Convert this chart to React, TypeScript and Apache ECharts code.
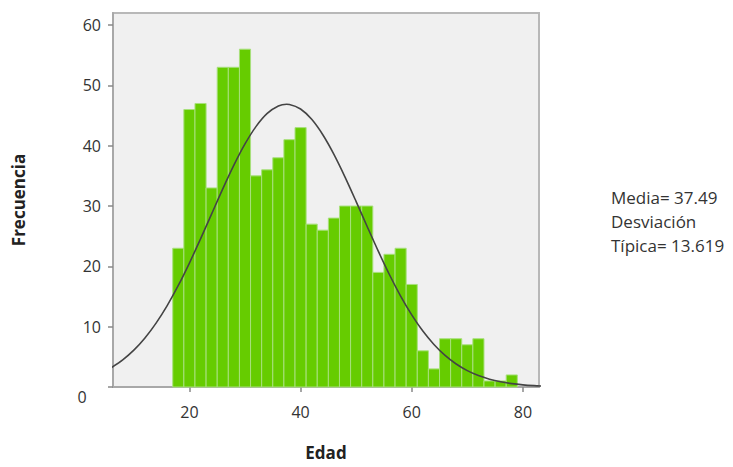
import React, { useEffect, useRef } from "react";
import * as echarts from "echarts";

// Histogram bins (age, width 2 years) and their counts
const binStarts = [17, 19, 21, 23, 25, 27, 29, 31, 33, 35, 37, 39, 41, 43, 45, 47, 49, 51, 53, 55, 57, 59, 61, 63, 65, 67, 69, 71, 73, 75, 77];
const counts = [23, 46, 47, 33, 53, 53, 56, 35, 36, 38, 41, 43, 27, 26, 28, 30, 30, 30, 19, 22, 23, 17, 6, 3, 8, 8, 7, 8, 1, 1, 2];
const binWidth = 2;

// Fitted normal curve
const curveX = [6, 8, 10, 12, 14, 16, 18, 20, 22, 24, 26, 28, 30, 32, 34, 36, 37.49, 38, 40, 42, 44, 46, 48, 50, 52, 54, 56, 58, 60, 62, 64, 66, 68, 70, 72, 74, 76, 78, 80, 82, 84];
const curveY = [3.24, 4.5, 6.11, 8.13, 10.59, 13.5, 16.83, 20.55, 24.55, 28.7, 32.84, 36.77, 40.29, 43.21, 45.36, 46.59, 46.87, 46.84, 46.08, 44.37, 41.81, 38.56, 34.8, 30.74, 26.57, 22.48, 18.61, 15.08, 11.96, 9.28, 7.05, 5.24, 3.81, 2.71, 1.89, 1.29, 0.86, 0.56, 0.36, 0.23, 0.14];

const xTicks = [20, 40, 60, 80];
const yTicks = [0, 10, 20, 30, 40, 50, 60];
const yLabels = [10, 20, 30, 40, 50, 60];

const statsLines = ["Media= 37.49", "Desviación", "Típica= 13.619"];

const FONT = "'Open Sans', 'Noto Sans', sans-serif";

export default function App() {
  const ref = useRef<HTMLDivElement>(null);
  useEffect(() => {
    if (!ref.current) return;
    const chart = echarts.init(ref.current, null, { renderer: "svg" });
    const barData = binStarts.map((s, i) => [s, s + binWidth, counts[i]]);
    const lineData = curveX.map((x, i) => [x, curveY[i]]);
    chart.setOption({
      animation: false,
      backgroundColor: "#ffffff",
      textStyle: { fontFamily: FONT },
      grid: {
        left: 113,
        top: 13,
        right: 194,
        bottom: 80,
        outerBoundsMode: "none",
        containLabel: false,
        show: true,
        backgroundColor: "#f0f0f0",
        borderColor: "#b8b8b8",
        borderWidth: 2,
      },
      xAxis: {
        type: "value",
        min: 6.25,
        max: 82.9,
        name: "Edad",
        nameLocation: "middle",
        nameGap: 57,
        nameTextStyle: { fontWeight: "bold", fontSize: 17, lineHeight: 17, color: "#222", fontFamily: FONT },
        axisLine: { show: true, onZero: false, lineStyle: { color: "#a8a8a8", width: 2 } },
        axisTick: { show: true, customValues: xTicks, length: 5, lineStyle: { color: "#888", width: 1.5 } },
        axisLabel: { customValues: xTicks, fontSize: 16, color: "#333", margin: 17, fontFamily: FONT },
        splitLine: { show: false },
      },
      yAxis: {
        type: "value",
        min: 0,
        max: 62,
        name: "Frecuencia",
        nameLocation: "middle",
        nameGap: 86,
        nameRotate: 90,
        nameTextStyle: { fontWeight: "bold", fontSize: 17, color: "#222", fontFamily: FONT },
        axisLine: { show: true, lineStyle: { color: "#a8a8a8", width: 2 } },
        axisTick: { show: true, customValues: yTicks, length: 5, lineStyle: { color: "#888", width: 1.5 } },
        axisLabel: { customValues: yLabels, fontSize: 16, color: "#333", margin: 12, fontFamily: FONT },
        splitLine: { show: false },
      },
      series: [
        {
          type: "custom",
          data: barData,
          encode: { x: [0, 1], y: 2 },
          renderItem: (params: any, api: any) => {
            const p0 = api.coord([api.value(0), api.value(2)]);
            const p1 = api.coord([api.value(1), 0]);
            return {
              type: "rect",
              shape: { x: p0[0], y: p0[1], width: p1[0] - p0[0], height: p1[1] - p0[1] },
              style: { fill: "#66cc00", stroke: "#a8e07c", lineWidth: 1 },
            };
          },
          z: 2,
        },
        {
          type: "line",
          data: lineData,
          showSymbol: false,
          smooth: 0.3,
          lineStyle: { color: "#444444", width: 1.6 },
          clip: true,
          z: 3,
        },
      ],
      graphic: [
        {
          type: "text",
          x: 82,
          y: 397,
          style: { text: "0", fontSize: 16, fill: "#333", fontFamily: FONT, align: "center", verticalAlign: "middle" },
        },
        ...statsLines.map((t, i) => ({
          type: "text",
          x: 611,
          y: 197 + i * 24,
          style: { text: t, fontSize: 17, fill: "#333", fontFamily: FONT, align: "left", verticalAlign: "middle" },
        })),
      ],
    });
    return () => chart.dispose();
  }, []);
  return <div ref={ref} style={{ position: "fixed", left: 0, top: 0, width: 733, height: 467 }} />;
}
